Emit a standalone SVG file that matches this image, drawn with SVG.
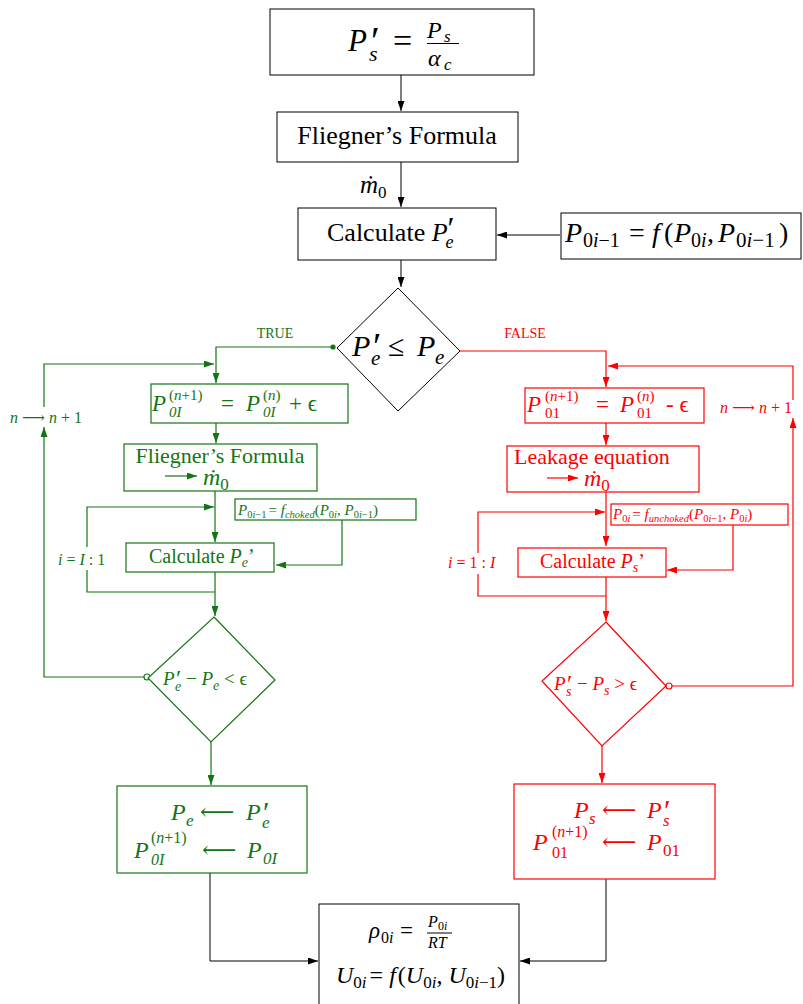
<svg xmlns="http://www.w3.org/2000/svg" width="803" height="1004" viewBox="0 0 803 1004" font-family="'Liberation Serif', 'DejaVu Serif', serif">
<style>
text,tspan{font-family:"Liberation Serif","DejaVu Serif",serif}
.it{font-style:italic}
.k{stroke:#000;fill:none;stroke-width:1}
.g{stroke:#147514;fill:none;stroke-width:1.2}
.r{stroke:#ff0000;fill:none;stroke-width:1.2}
.box{fill:#fff}
.tk{fill:#000}
.tg{fill:#147514}
.tr{fill:#ff0000}
</style>
<defs>
<marker id="ak" markerUnits="userSpaceOnUse" markerWidth="10" markerHeight="7" refX="10" refY="3.5" orient="auto"><path d="M0,0 L10,3.5 L0,7 z" fill="#000"/></marker>
<marker id="ag" markerUnits="userSpaceOnUse" markerWidth="10" markerHeight="7" refX="10" refY="3.5" orient="auto"><path d="M0,0 L10,3.5 L0,7 z" fill="#147514"/></marker>
<marker id="ar" markerUnits="userSpaceOnUse" markerWidth="10" markerHeight="7" refX="10" refY="3.5" orient="auto"><path d="M0,0 L10,3.5 L0,7 z" fill="#ff0000"/></marker>
</defs>

<g id="connectors">
<path class="k" d="M401,75 V111" marker-end="url(#ak)"/>
<path class="k" d="M401,162 V207" marker-end="url(#ak)"/>
<path class="k" d="M560,235 H497" marker-end="url(#ak)"/>
<path class="k" d="M401,260 V287" marker-end="url(#ak)"/>
<path class="k" d="M210,873 V961 H318" marker-end="url(#ak)"/>
<path class="k" d="M606,879 V961 H520" marker-end="url(#ak)"/>
<text class="tk it" x="360" y="193" font-size="25">ṁ<tspan font-size="17" dy="5" font-style="normal">0</tspan></text>

<path class="g" d="M333,347 H216 V383" marker-end="url(#ag)"/>
<circle cx="333" cy="347" r="2.6" fill="#147514"/>
<text class="tg" x="275" y="338" font-size="14" text-anchor="middle">TRUE</text>
<path class="g" d="M145,677 H44 V427" marker-end="url(#ag)"/>
<path class="g" d="M44,407 V364 H214" marker-end="url(#ag)"/>
<text class="tg" x="10" y="423" font-size="16"><tspan class="it">n</tspan> ⟶ <tspan class="it">n</tspan> + 1</text>
<path class="g" d="M216,423 V443" marker-end="url(#ag)"/>
<path class="g" d="M215,491 V542" marker-end="url(#ag)"/>
<path class="g" d="M87,547 V507 H214" marker-end="url(#ag)"/>
<path class="g" d="M215,592 H87 V570"/>
<text class="tg" x="58" y="565" font-size="16"><tspan class="it">i</tspan> = <tspan class="it">I</tspan> : 1</text>
<path class="g" d="M342,520 V565 H276" marker-end="url(#ag)"/>
<path class="g" d="M215,572 V616" marker-end="url(#ag)"/>
<path class="g" d="M211,742 V785" marker-end="url(#ag)"/>
<circle cx="147" cy="677" r="3" fill="#fff" stroke="#147514" stroke-width="1.2"/>

<path class="r" d="M460,351 H606 V387" marker-end="url(#ar)"/>
<text class="tr" x="525" y="338" font-size="14" text-anchor="middle">FALSE</text>
<path class="r" d="M672,686 H793 V418" marker-end="url(#ar)"/>
<path class="r" d="M793,400 V366 H608" marker-end="url(#ar)"/>
<text class="tr" x="720" y="413" font-size="16"><tspan class="it">n</tspan> ⟶ <tspan class="it">n</tspan> + 1</text>
<path class="r" d="M606,423 V445" marker-end="url(#ar)"/>
<path class="r" d="M606,492 V546" marker-end="url(#ar)"/>
<path class="r" d="M478,553 V512 H605" marker-end="url(#ar)"/>
<path class="r" d="M606,596 H478 V574"/>
<text class="tr" x="448" y="568" font-size="16"><tspan class="it">i</tspan> = 1 : <tspan class="it">I</tspan></text>
<path class="r" d="M733,525 V570 H667" marker-end="url(#ar)"/>
<path class="r" d="M606,577 V621" marker-end="url(#ar)"/>
<path class="r" d="M602,746 V783" marker-end="url(#ar)"/>
<circle cx="669" cy="686" r="3" fill="#fff" stroke="#ff0000" stroke-width="1.2"/>
</g>

<g id="start">
<rect class="k box" x="270" y="9" width="264" height="66"/>
<text class="tk" font-size="31"><tspan class="it" x="348" y="51">P</tspan><tspan x="371" y="54" font-size="40">′</tspan><tspan class="it" x="369" y="61" font-size="22">s</tspan><tspan x="393" y="52" font-size="34">=</tspan></text>
<text class="tk it" font-size="24"><tspan x="427" y="38">P</tspan><tspan x="444" y="42" font-size="17">s</tspan><tspan x="428" y="66">α</tspan><tspan x="444" y="70" font-size="17">c</tspan></text>
<path class="k" d="M427,43.5 H459"/>
</g>

<g id="fliegner">
<rect class="k box" x="277" y="112" width="241" height="50"/>
<text class="tk" x="397" y="144" font-size="26" text-anchor="middle">Fliegner’s Formula</text>
</g>

<g id="calcPe">
<rect class="k box" x="298" y="208" width="198" height="52"/>
<text class="tk" x="327" y="241" font-size="26">Calculate <tspan class="it">P</tspan><tspan font-size="32" dy="-2">′</tspan><tspan class="it" font-size="18" dx="-9" dy="9">e</tspan></text>
</g>

<g id="p0i">
<rect class="k box" x="561" y="213" width="240" height="46"/>
<text class="tk" font-size="28"><tspan class="it" x="565" y="242">P</tspan><tspan x="583" y="247" font-size="20">0<tspan class="it">i</tspan>−1</tspan><tspan x="629" y="242">=</tspan><tspan class="it" x="652" y="242">f</tspan><tspan x="664" y="242">(</tspan><tspan class="it" x="674" y="242">P</tspan><tspan x="691" y="247" font-size="20">0<tspan class="it">i</tspan></tspan><tspan x="707" y="242">,</tspan><tspan class="it" x="718" y="242">P</tspan><tspan x="736" y="247" font-size="21">0<tspan class="it">i</tspan>−1</tspan><tspan x="779" y="242">)</tspan></text>
</g>

<g id="decision">
<path class="k box" d="M398,288 L460,351 L398,411 L337,348 Z"/>
<text class="tk" font-size="30"><tspan class="it" x="352" y="356">P</tspan><tspan x="373" y="359" font-size="38">′</tspan><tspan class="it" x="371" y="365" font-size="21">e</tspan><tspan x="388" y="356">≤</tspan><tspan class="it" x="417" y="356">P</tspan><tspan class="it" x="435" y="364" font-size="21">e</tspan></text>
</g>

<g id="g_update">
<rect class="g box" x="151" y="384" width="197" height="39"/>
<text class="tg" font-size="23"><tspan class="it" x="152" y="411">P</tspan><tspan x="169" y="400" font-size="15">(<tspan class="it">n</tspan>+1)</tspan><tspan class="it" x="169" y="417" font-size="15">0I</tspan><tspan x="221" y="411">=</tspan><tspan class="it" x="246" y="411">P</tspan><tspan x="263" y="400" font-size="15">(<tspan class="it">n</tspan>)</tspan><tspan class="it" x="263" y="417" font-size="15">0I</tspan><tspan x="289" y="411">+ ϵ</tspan></text>
</g>

<g id="g_fliegner">
<rect class="g box" x="124" y="444" width="193" height="47"/>
<text class="tg" x="220" y="463" font-size="22" text-anchor="middle">Fliegner’s Formula</text>
<path class="g" d="M165,476 H197" marker-end="url(#ag)"/>
<text class="tg it" x="203" y="485" font-size="24">ṁ<tspan font-size="17" dy="5" font-style="normal">0</tspan></text>
</g>

<g id="g_choked">
<rect class="g box" x="235" y="499" width="181" height="21"/>
<text class="tg" font-size="15"><tspan class="it" x="238" y="515">P</tspan><tspan font-size="10.5" dy="3">0<tspan class="it">i</tspan>−1</tspan><tspan dy="-3" dx="2">= </tspan><tspan class="it">f</tspan><tspan class="it" font-size="10.5" dy="3">choked</tspan><tspan dy="-3">(</tspan><tspan class="it">P</tspan><tspan font-size="10.5" dy="3">0<tspan class="it">i</tspan></tspan><tspan dy="-3">, </tspan><tspan class="it">P</tspan><tspan font-size="10.5" dy="3">0<tspan class="it">i</tspan>−1</tspan><tspan dy="-3">)</tspan></text>
</g>

<g id="g_calc">
<rect class="g box" x="126" y="543" width="148" height="29"/>
<text class="tg" x="149" y="563" font-size="20">Calculate <tspan class="it">P</tspan><tspan class="it" font-size="14" dy="4">e</tspan><tspan dy="-4">’</tspan></text>
</g>

<g id="g_decision">
<path class="g box" d="M214,617 L275,680 L211,742 L148,678 Z"/>
<text class="tg" font-size="19"><tspan class="it" x="163" y="685">P</tspan><tspan x="176" y="686" font-size="24">′</tspan><tspan class="it" x="175" y="691" font-size="14">e</tspan><tspan x="186" y="685">− </tspan><tspan class="it">P</tspan><tspan class="it" font-size="14" dy="5">e</tspan><tspan dy="-5"> &lt; ϵ</tspan></text>
</g>

<g id="g_result">
<rect class="g box" x="117" y="786" width="190" height="87"/>
<text class="tg" font-size="24"><tspan class="it" x="171" y="820">P</tspan><tspan class="it" x="186" y="826" font-size="17">e</tspan><tspan x="200" y="820">⟵</tspan><tspan class="it" x="246" y="820">P</tspan><tspan x="263" y="822" font-size="30">′</tspan><tspan class="it" x="262" y="828" font-size="17">e</tspan></text>
<text class="tg" font-size="24"><tspan class="it" x="134" y="858">P</tspan><tspan x="151" y="843" font-size="16">(<tspan class="it">n</tspan>+1)</tspan><tspan class="it" x="151" y="865" font-size="16">0I</tspan><tspan x="202" y="858">⟵</tspan><tspan class="it" x="247" y="858">P</tspan><tspan class="it" x="263" y="864" font-size="17">0I</tspan></text>
</g>

<g id="r_update">
<rect class="r box" x="525" y="388" width="179" height="35"/>
<text class="tr" font-size="23"><tspan class="it" x="527" y="412">P</tspan><tspan x="545" y="401" font-size="15">(<tspan class="it">n</tspan>+1)</tspan><tspan x="545" y="418" font-size="15">01</tspan><tspan x="596" y="412">=</tspan><tspan class="it" x="620" y="412">P</tspan><tspan x="637" y="401" font-size="15">(<tspan class="it">n</tspan>)</tspan><tspan x="637" y="418" font-size="15">01</tspan><tspan x="666" y="412">- ϵ</tspan></text>
</g>

<g id="r_leak">
<rect class="r box" x="507" y="446" width="192" height="46"/>
<text class="tr" x="514" y="464" font-size="22">Leakage equation</text>
<path class="r" d="M547,478 H578" marker-end="url(#ar)"/>
<text class="tr it" x="584" y="486" font-size="24">ṁ<tspan font-size="17" dy="5" font-style="normal">0</tspan></text>
</g>

<g id="r_unchoked">
<rect class="r box" x="611" y="504" width="177" height="21"/>
<text class="tr" font-size="15"><tspan class="it" x="613" y="519">P</tspan><tspan font-size="10.5" dy="3">0<tspan class="it">i</tspan></tspan><tspan dy="-3" dx="2">= </tspan><tspan class="it">f</tspan><tspan class="it" font-size="10.5" dy="3">unchoked</tspan><tspan dy="-3">(</tspan><tspan class="it">P</tspan><tspan font-size="10.5" dy="3">0<tspan class="it">i</tspan>−1</tspan><tspan dy="-3">, </tspan><tspan class="it">P</tspan><tspan font-size="10.5" dy="3">0<tspan class="it">i</tspan></tspan><tspan dy="-3">)</tspan></text>
</g>

<g id="r_calc">
<rect class="r box" x="518" y="548" width="148" height="29"/>
<text class="tr" x="540" y="568" font-size="20">Calculate <tspan class="it">P</tspan><tspan class="it" font-size="14" dy="4">s</tspan><tspan dy="-4">’</tspan></text>
</g>

<g id="r_decision">
<path class="r box" d="M606,622 L666,686 L602,746 L542,681 Z"/>
<text class="tr" font-size="19"><tspan class="it" x="554" y="690">P</tspan><tspan x="567" y="691" font-size="24">′</tspan><tspan class="it" x="566" y="696" font-size="14">s</tspan><tspan x="577" y="690">− </tspan><tspan class="it">P</tspan><tspan class="it" font-size="14" dy="5">s</tspan><tspan dy="-5"> &gt; ϵ</tspan></text>
</g>

<g id="r_result">
<rect class="r box" x="514" y="784" width="201" height="95"/>
<text class="tr" font-size="24"><tspan class="it" x="574" y="818">P</tspan><tspan class="it" x="589" y="824" font-size="17">s</tspan><tspan x="602" y="818">⟵</tspan><tspan class="it" x="647" y="818">P</tspan><tspan x="664" y="820" font-size="30">′</tspan><tspan class="it" x="663" y="826" font-size="17">s</tspan></text>
<text class="tr" font-size="24"><tspan class="it" x="533" y="850">P</tspan><tspan x="552" y="837" font-size="16">(<tspan class="it">n</tspan>+1)</tspan><tspan x="552" y="858" font-size="16">01</tspan><tspan x="602" y="850">⟵</tspan><tspan class="it" x="647" y="850">P</tspan><tspan x="663" y="856" font-size="17">01</tspan></text>
</g>

<g id="final">
<rect class="k box" x="319" y="904" width="200" height="110"/>
<text class="tk" font-size="23"><tspan class="it" x="369" y="938">ρ</tspan><tspan x="381" y="943" font-size="16">0<tspan class="it">i</tspan></tspan><tspan x="400" y="938">=</tspan></text>
<text class="tk it" font-size="16"><tspan x="428" y="927">P</tspan><tspan x="438" y="930" font-size="12" font-style="normal">0<tspan class="it">i</tspan></tspan><tspan x="428" y="948">RT</tspan></text>
<path class="k" d="M427,933 H452"/>
<text class="tk" font-size="24"><tspan class="it" x="336" y="983">U</tspan><tspan font-size="17" dy="5">0<tspan class="it">i</tspan></tspan><tspan dy="-5" dx="3">= </tspan><tspan class="it">f</tspan><tspan dx="2">(</tspan><tspan class="it">U</tspan><tspan font-size="17" dy="5">0<tspan class="it">i</tspan></tspan><tspan dy="-5">, </tspan><tspan class="it">U</tspan><tspan font-size="17" dy="5">0<tspan class="it">i</tspan>−1</tspan><tspan dy="-5">)</tspan></text>
</g>
</svg>
